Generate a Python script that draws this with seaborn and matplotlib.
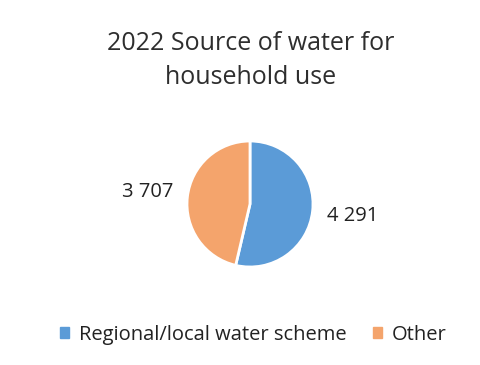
import matplotlib
matplotlib.use("Agg")
import matplotlib.pyplot as plt
import seaborn as sns
import numpy as np

sources = ["Regional/local water scheme", "Other"]
households = [4291, 3707]
colors = ["#5B9BD7", "#F4A46C"]

sns.set_theme(style="white")
plt.rcParams["font.family"] = ["Open Sans", "DejaVu Sans"]

W, H = 481, 365
fig = plt.figure(figsize=(W / 100, H / 100), dpi=100)
fig.patch.set_facecolor("white")

# pie axes: centre ~(250, 204) px, radius ~63 px
cx, cy, r = 250, 204, 63
ax = fig.add_axes([(cx - r) / W, (H - cy - r) / H, 2 * r / W, 2 * r / H])

wedges = ax.pie(
    households,
    colors=colors,
    startangle=90,
    counterclock=False,
    wedgeprops={"edgecolor": "white", "linewidth": 2},
    radius=1,
)[0]
ax.set_xlim(-1, 1)
ax.set_ylim(-1, 1)
ax.set_aspect("equal")

for w, v in zip(wedges, households):
    ang = np.deg2rad((w.theta1 + w.theta2) / 2)
    ax.text(1.64 * np.cos(ang), 1.64 * np.sin(ang), f"{v:,}".replace(",", " "),
            ha="center", va="center", fontsize=14.5, color="#222222")
ax.axis("off")

fig.text(0.521, 1 - 43 / H, "2022 Source of water for", ha="center", va="center",
         fontsize=18, color="#2e2e2e")
fig.text(0.521, 1 - 78 / H, "household use", ha="center", va="center",
         fontsize=18, color="#2e2e2e")

handles = [plt.Rectangle((0, 0), 1, 1, color=c) for c in colors]
fig.legend(handles, sources, loc="center", bbox_to_anchor=(0.527, 1 - 335 / H),
           ncol=2, frameon=False, fontsize=14.5, handlelength=0.45, handleheight=0.45,
           handletextpad=0.5, columnspacing=1.3, labelcolor="#222222")

fig.savefig("out.png", dpi=100, facecolor="white")
